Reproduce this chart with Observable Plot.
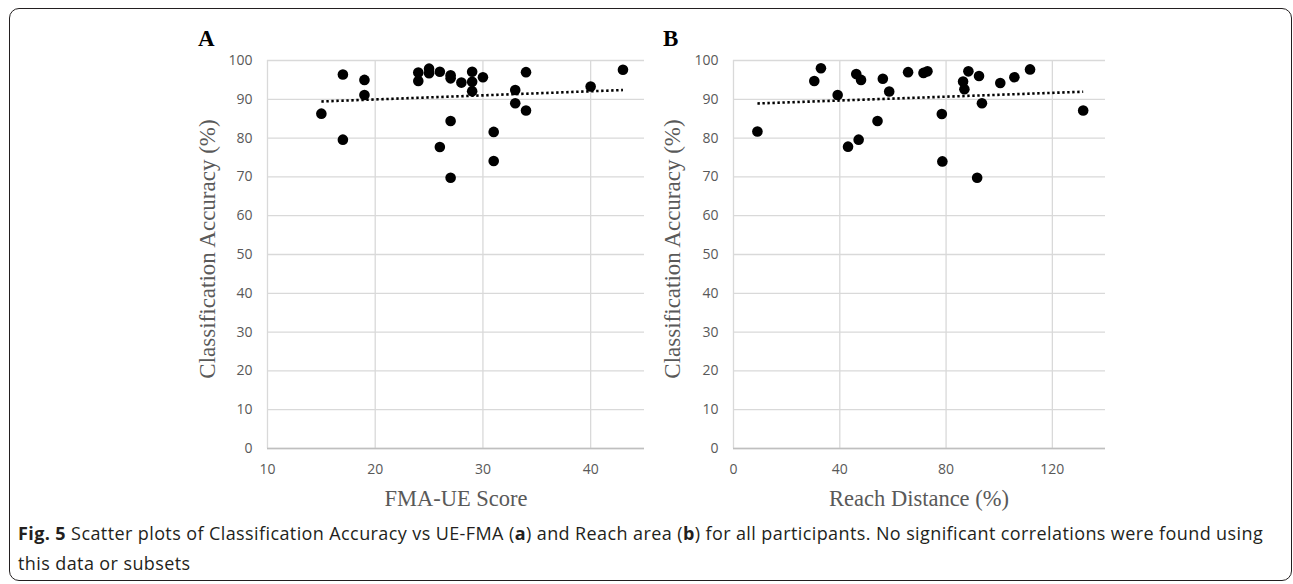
<!DOCTYPE html>
<html>
<head>
<meta charset="utf-8">
<script src="https://cdn.jsdelivr.net/npm/d3@7"></script>
<script src="https://cdn.jsdelivr.net/npm/@observablehq/plot@0.6"></script>
<style>
  html, body { margin: 0; padding: 0; background: #fff; }
  body { width: 1293px; height: 584px; position: relative; overflow: hidden; }
  .frame { position: absolute; left: 9px; top: 8px; width: 1283px; height: 573px;
           border: 1.5px solid #231f20; border-radius: 10px; box-sizing: border-box; }
  .panel { position: absolute; }
  .plabel { position: absolute; font-family: "Liberation Serif", "DejaVu Serif", serif; font-weight: bold;
            font-size: 23px; color: #000; line-height: 1; }
  .xtitle { position: absolute; font-family: "Liberation Serif", serif; font-size: 22.5px; color: #595959;
            transform: translate(-50%, -50%); white-space: nowrap; }
  .ytitle { position: absolute; font-family: "Liberation Serif", serif; font-size: 23px; color: #595959;
            transform: translate(-50%, -50%) rotate(-90deg); white-space: nowrap; }
  .caption { position: absolute; left: 18px; top: 518px; width: 1268px; font-family: "Open Sans", sans-serif;
             font-size: 18px; letter-spacing: 0.4px; line-height: 30px; color: #231f20; white-space: nowrap; }
</style>
</head>
<body>
<div class="frame"></div>
<div id="A" class="panel" style="left:160px; top:20px;"></div>
<div id="B" class="panel" style="left:640px; top:20px;"></div>
<div class="plabel" style="left:198px; top:27px;">A</div>
<div class="plabel" style="left:663px; top:27px;">B</div>
<div class="ytitle" style="left:208px; top:249px;">Classification Accuracy (%)</div>
<div class="ytitle" style="left:673px; top:249px;">Classification Accuracy (%)</div>
<div class="xtitle" style="left:456px; top:499px;">FMA-UE Score</div>
<div class="xtitle" style="left:919px; top:499px;">Reach Distance (%)</div>
<div class="caption"><b>Fig. 5</b> Scatter plots of Classification Accuracy vs UE-FMA (<b>a</b>) and Reach area (<b>b</b>) for all participants. No significant correlations were found using<br>this data or subsets</div>
<script>
// Panel A: FMA-UE score vs classification accuracy
const fmaScore = [15, 17, 17, 19, 19, 24, 24, 25, 25, 26, 27, 27, 28, 29, 29, 29, 30, 27, 26, 27, 31, 31, 34, 33, 33, 34, 40, 43];
const accuracyA = [86.3, 96.4, 79.6, 95.0, 91.1, 96.9, 94.7, 97.9, 96.7, 97.1, 96.2, 95.4, 94.3, 97.1, 94.5, 92.1, 95.7, 84.4, 77.7, 69.8, 81.6, 74.1, 97.0, 92.4, 89.0, 87.1, 93.3, 97.6];

// Panel B: reach distance vs classification accuracy
const reachDistance = [9.0, 30.4, 32.9, 39.2, 43.1, 47.1, 46.2, 48.0, 54.2, 56.2, 58.6, 65.7, 71.5, 73.0, 78.4, 78.6, 88.4, 86.4, 86.9, 92.4, 93.5, 91.7, 100.4, 105.7, 111.6, 131.6];
const accuracyB = [81.7, 94.7, 98.0, 91.1, 77.8, 79.6, 96.5, 95.0, 84.4, 95.3, 92.0, 97.0, 96.8, 97.2, 86.2, 74.0, 97.2, 94.6, 92.6, 96.0, 89.0, 69.8, 94.2, 95.7, 97.7, 87.1];

const yTicks = [0, 10, 20, 30, 40, 50, 60, 70, 80, 90, 100];
const xTicksA = [10, 20, 30, 40];
const xTicksB = [0, 40, 80, 120];
const xDomainA = [10, 45];
const xDomainB = [0, 140];

function panel(xs, ys, xTicks, xDomain, opts) {
  const data = xs.map((x, i) => ({x, y: ys[i]}));
  return Plot.plot({
    width: opts.width, height: 500,
    marginLeft: opts.marginLeft, marginRight: opts.marginRight, marginTop: 40, marginBottom: 72,
    x: {domain: xDomain, ticks: xTicks},
    y: {domain: [0, 100], ticks: yTicks},
    style: {fontFamily: "'Open Sans', sans-serif", fontSize: "14px", color: "#595959", background: "transparent", overflow: "visible"},
    marks: [
      Plot.ruleY(yTicks, {stroke: "#d9d9d9", strokeWidth: 1.3, strokeOpacity: 1}),
      Plot.ruleX(xTicks, {stroke: "#d9d9d9", strokeWidth: 1.3, strokeOpacity: 1}),
      Plot.ruleY([0], {stroke: "#bfbfbf", strokeWidth: 1.5, strokeOpacity: 1}),
      Plot.axisX({ticks: xTicks, tickSize: 0, tickPadding: 16, label: null, fill: "#595959"}),
      Plot.axisY({ticks: yTicks, tickSize: 0, tickPadding: 15, label: null, fill: "#595959"}),
      Plot.linearRegressionY(data, {x: "x", y: "y", ci: 0, stroke: "#000", strokeWidth: 2.6, strokeDasharray: "2.4 2.6", strokeLinecap: "butt", strokeOpacity: 1}),
      Plot.dot(data, {x: "x", y: "y", r: 5.3, fill: "#000", stroke: "none"})
    ]
  });
}

document.getElementById("A").appendChild(panel(fmaScore, accuracyA, xTicksA, xDomainA, {width: 500, marginLeft: 107, marginRight: 16}));
document.getElementById("B").appendChild(panel(reachDistance, accuracyB, xTicksB, xDomainB, {width: 480, marginLeft: 93, marginRight: 15}));
</script>
</body>
</html>
